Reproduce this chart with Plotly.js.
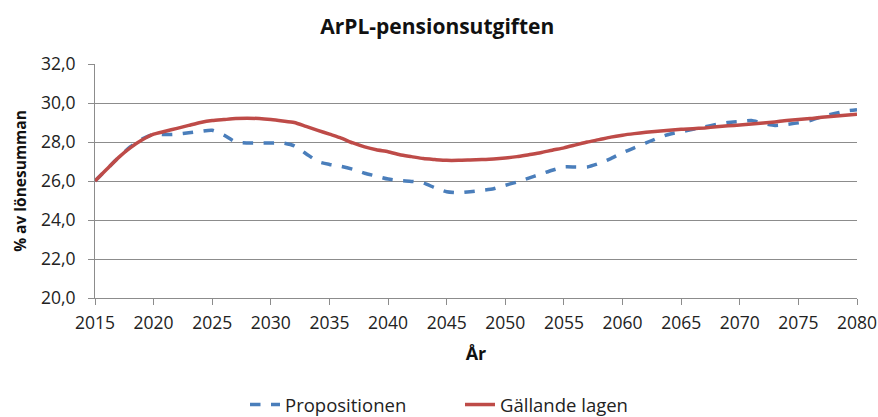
<!DOCTYPE html>
<html>
<head>
<meta charset="utf-8">
<script src="https://cdn.plot.ly/plotly-3.0.1.min.js"></script>
<style>html,body{margin:0;padding:0;background:#fff;}#chart{width:878px;height:417px;}</style>
</head>
<body>
<div id="chart"></div>
<script>
const years = [];
for (let y = 2015; y <= 2080; y++) years.push(y);

const propositionen = [
  26.0, 26.6, 27.2, 27.75, 28.15, 28.4, 28.38, 28.4, 28.47, 28.55,
  28.6, 28.35, 28.0, 27.95, 27.95, 27.95, 27.95, 27.8, 27.4, 27.0,
  26.85, 26.75, 26.6, 26.4, 26.25, 26.1, 26.02, 25.98, 25.9, 25.65,
  25.45, 25.4, 25.45, 25.52, 25.6, 25.78, 25.95, 26.15, 26.35, 26.55,
  26.72, 26.72, 26.72, 26.9, 27.15, 27.45, 27.7, 27.95, 28.2, 28.4,
  28.52, 28.65, 28.78, 28.9, 29.0, 29.05, 29.1, 28.95, 28.85, 28.9,
  28.98, 29.1, 29.3, 29.45, 29.58, 29.65
];

const gallandeLagen = [
  26.0, 26.6, 27.2, 27.7, 28.1, 28.4, 28.55, 28.7, 28.85, 29.0,
  29.1, 29.15, 29.2, 29.22, 29.2, 29.15, 29.08, 29.0, 28.8, 28.6,
  28.4, 28.2, 27.95, 27.75, 27.6, 27.5, 27.35, 27.25, 27.15, 27.1,
  27.06, 27.06, 27.08, 27.1, 27.13, 27.18, 27.25, 27.35, 27.45, 27.58,
  27.7, 27.85, 28.0, 28.12, 28.25, 28.35, 28.43, 28.5, 28.55, 28.6,
  28.65, 28.68, 28.72, 28.78, 28.83, 28.87, 28.92, 28.97, 29.03, 29.1,
  29.15, 29.2, 29.27, 29.32, 29.37, 29.42
];

const xTicks = [2015, 2020, 2025, 2030, 2035, 2040, 2045, 2050, 2055, 2060, 2065, 2070, 2075, 2080];
const yTicks = [20, 22, 24, 26, 28, 30, 32];

const FONT = 'Open Sans, DejaVu Sans, sans-serif';

const traces = [
  {
    x: years, y: propositionen, name: 'Propositionen', type: 'scatter', mode: 'lines',
    line: {color: '#4A7EBB', width: 3.5, dash: 'dash', shape: 'spline', smoothing: 0.6}
  },
  {
    x: years, y: gallandeLagen, name: 'Gällande lagen', type: 'scatter', mode: 'lines',
    line: {color: '#BE4B48', width: 3.5, shape: 'spline', smoothing: 0.6}
  }
];

const layout = {
  width: 878, height: 417,
  paper_bgcolor: '#fff', plot_bgcolor: '#fff',
  separators: ', ',
  margin: {l: 95, r: 21, t: 64, b: 119},
  font: {family: FONT, size: 17, color: '#222'},
  title: {text: '<b>ArPL-pensionsutgiften</b>', x: 0.498, xanchor: 'center', y: 0.935, yanchor: 'middle',
          font: {family: FONT, size: 21, color: '#111'}},
  xaxis: {
    range: [2015, 2080], tickvals: xTicks, ticktext: xTicks.map(String),
    showgrid: false, zeroline: false, showline: true, linecolor: '#8c8c8c', linewidth: 1,
    ticks: 'outside', ticklen: 6, tickcolor: '#8c8c8c', automargin: false, ticklabelstandoff: 3,
    tickfont: {family: FONT, size: 17.5, color: '#222'},
    title: {text: '<b>År</b>', font: {family: FONT, size: 18, color: '#111'}, standoff: 14}
  },
  yaxis: {
    range: [20, 32], tickvals: yTicks, tickformat: '.1f',
    showgrid: true, gridcolor: '#8c8c8c', gridwidth: 1, zeroline: false,
    showline: true, linecolor: '#8c8c8c', linewidth: 1,
    ticks: 'outside', ticklen: 6, tickcolor: '#8c8c8c', automargin: false, ticklabelstandoff: 9,
    tickfont: {family: FONT, size: 17.5, color: '#222'},
    title: {text: '<b>% av lönesumman</b>', font: {family: FONT, size: 15.5, color: '#111'}, standoff: 10}
  },
  showlegend: true,
  legend: {orientation: 'h', xref: 'container', yref: 'container', x: 245 / 878, xanchor: 'left',
           y: 12 / 417, yanchor: 'middle', entrywidth: 170, entrywidthmode: 'pixels',
           font: {family: FONT, size: 18.5, color: '#222'}, itemwidth: 30, tracegroupgap: 0}
};

Plotly.newPlot('chart', traces, layout, {displayModeBar: false, staticPlot: true});
</script>
</body>
</html>
